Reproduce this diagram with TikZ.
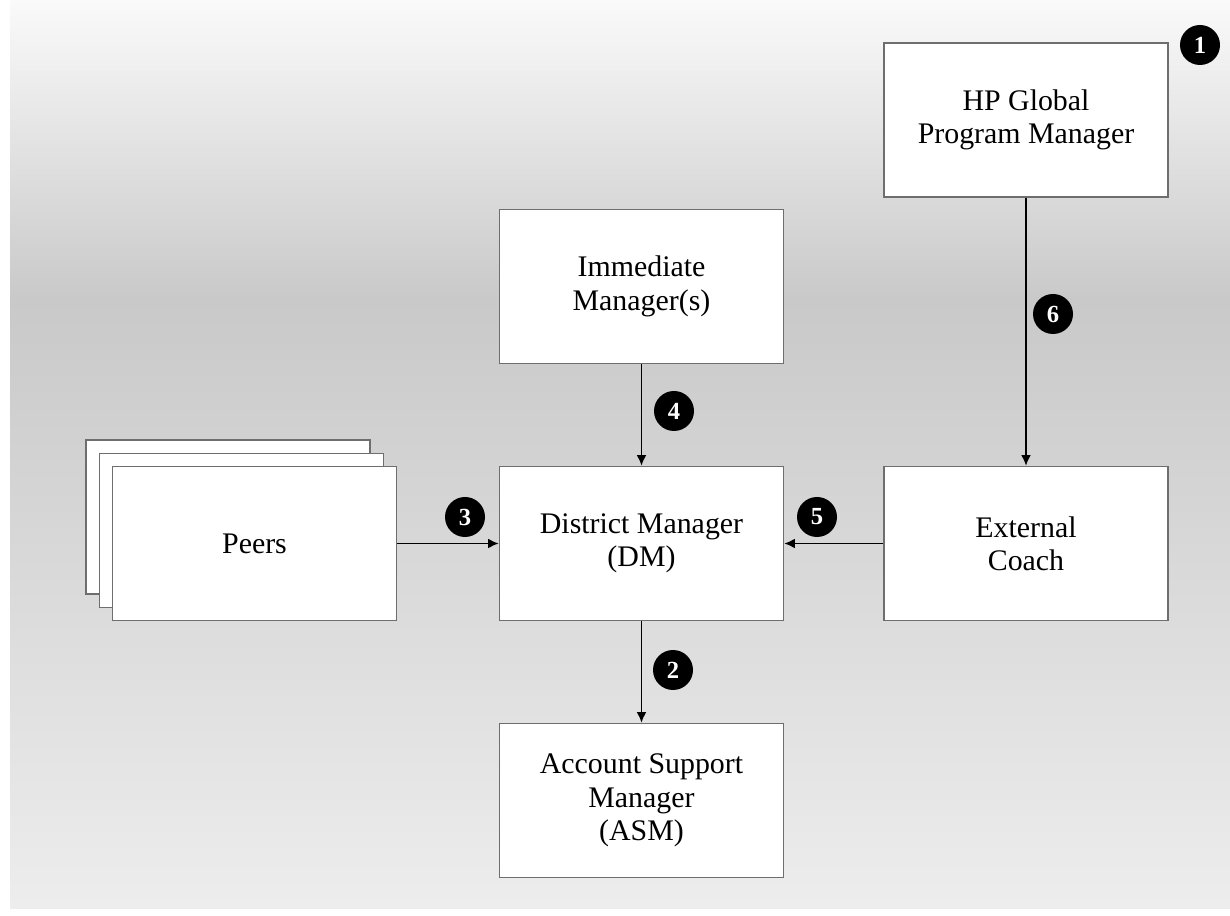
\documentclass[tikz,border=0pt]{standalone}
\usepackage{fontspec}
\setmainfont{Liberation Serif}
\usepackage{tikz}
\usetikzlibrary{positioning,arrows.meta}
\definecolor{boxEdge}{HTML}{6E6E6E}
\definecolor{bgTop}{HTML}{FAFAFA}
\definecolor{bgMid}{HTML}{C9C9C9}
\definecolor{bgLow}{HTML}{EDEDED}
\tikzset{
  role/.style={draw=boxEdge, line width=0.9pt, fill=white, minimum width=5.68cm,
    minimum height=3.08cm, align=center, inner sep=0pt,
    font=\fontsize{17}{19}\selectfont},
  badge/.style={circle, fill=black, text=white, minimum size=0.8cm, inner sep=0pt,
    font=\fontsize{14}{14}\selectfont\bfseries},
  flow/.style={-{Latex[length=6pt,width=5.5pt]}, line width=0.8pt}
}

\begin{document}
\begin{tikzpicture}
            \useasboundingbox (0,0) rectangle (24.6,18.3);
            % background
            \fill[white] (0,0) rectangle (24.6,18.3);
            \shade[top color=bgTop, bottom color=bgMid] (0.2,12.3) rectangle (24.6,18.3);
            \shade[top color=bgMid, bottom color=bgLow] (0.2,0.14) rectangle (24.6,12.3);

            % stacked peers
            \node[role] (peers3) at (4.56,7.96) {};
            \node[role] (peers2) at (4.83,7.69) {};
            \node[role] (peers) at (5.09,7.43) {Peers};

            \node[role] (hp) at (20.52,15.9) {HP Global\\Program Manager};
            \node[role] (imm) at (12.83,12.57) {Immediate\\Manager(s)};
            \node[role] (dm) at (12.83,7.43) {District Manager\\(DM)};
            \node[role] (coach) at (20.52,7.43) {External\\Coach};
            \node[role] (asm) at (12.83,2.29) {Account Support\\Manager\\(ASM)};

            \draw[flow] (hp) -- (coach);
            \draw[flow] (imm) -- (dm);
            \draw[flow] (peers) -- (dm);
            \draw[flow] (coach) -- (dm);
            \draw[flow] (dm) -- (asm);

            \node[badge] (b1) at (24.0,17.4) {1};
            \node[badge] (b2) at (13.46,4.90) {2};
            \node[badge] (b3) at (9.30,7.96) {3};
            \node[badge] (b4) at (13.48,10.08) {4};
            \node[badge] (b5) at (16.34,7.96) {5};
            \node[badge] (b6) at (21.06,12.02) {6};
        \end{tikzpicture}
\end{document}
